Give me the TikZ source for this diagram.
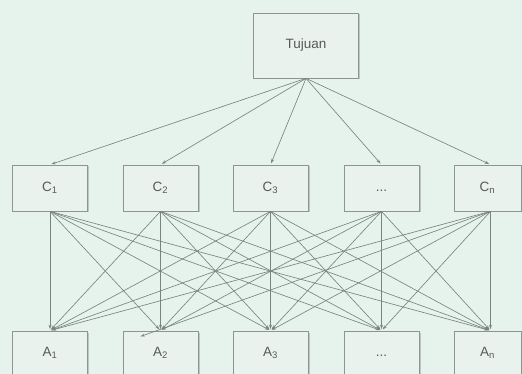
\documentclass[tikz,border=0pt]{standalone}
\usepackage{fontspec}
\setmainfont{Liberation Sans}
\usetikzlibrary{arrows.meta,shadows}
\definecolor{bg}{HTML}{E6F3ED}
\definecolor{boxfill}{HTML}{EAF2EE}
\definecolor{boxline}{HTML}{8C9590}
\definecolor{conn}{HTML}{7A847F}
\definecolor{txt}{HTML}{555A58}
\tikzset{
  box/.style={draw=boxline, line width=0.7pt, fill=boxfill, text=txt,
    font=\fontsize{13.5}{15}\selectfont, inner sep=0pt, text height=9.5pt, text depth=3pt,
    drop shadow={shadow xshift=1.5pt, shadow yshift=-1.5pt, fill=black, opacity=0.18}},
  cbox/.style={box, minimum width=75pt, minimum height=46pt},
  abox/.style={box, minimum width=75pt, minimum height=44pt},
  conn/.style={draw=conn, line width=0.65pt, -{Stealth[length=4.5pt,width=3pt]}, shorten >=1.5pt}
}
\newcommand{\sbs}[1]{\textsubscript{\fontsize{9.5}{10}\selectfont #1}}
\begin{document}
\begin{tikzpicture}[x=1pt,y=-1pt]
\useasboundingbox (0,0) rectangle (522,374);
\clip (0,0) rectangle (522,374);
\fill[bg] (0,0) rectangle (522,374);
% top
\node[box, minimum width=105pt, minimum height=65pt] (t) at (306,45.5) {Tujuan};
% criteria
\node[cbox] (c1) at (50,188) {C\sbs{1}};
\node[cbox] (c2) at (160.5,188) {C\sbs{2}};
\node[cbox] (c3) at (270.5,188) {C\sbs{3}};
\node[cbox] (c4) at (381.5,188) {...};
\node[cbox, minimum width=67pt] (c5) at (487.5,188) {C\sbs{n}};
% alternatives
\node[abox] (a1) at (50,353) {A\sbs{1}};
\node[abox] (a2) at (160.5,353) {A\sbs{2}};
\node[abox] (a3) at (270.5,353) {A\sbs{3}};
\node[abox] (a4) at (381.5,353) {...};
\node[abox, minimum width=67pt] (a5) at (487.5,353) {A\sbs{n}};
% goal to criteria
\foreach \c in {c1,c2,c3,c4}
  \draw[conn] (t.south) -- (\c.north);
\draw[conn] (t.south) -- ([xshift=3pt]c5.north);
% criteria to alternatives
\foreach \c in {c1,c2,c3,c4}{
  \foreach \a in {a1,a2,a3,a4}
    \draw[conn] (\c.south) -- (\a.north);
  \draw[conn] (\c.south) -- ([xshift=3pt]a5.north);
}
\foreach \a in {a1,a3,a4}
  \draw[conn] ([xshift=3pt]c5.south) -- (\a.north);
\draw[conn] ([xshift=3pt]c5.south) -- ([xshift=3pt]a5.north);
\coordinate (stray) at (139,337);
\draw[conn] ([xshift=3pt]c5.south) -- (stray);
\end{tikzpicture}
\end{document}
